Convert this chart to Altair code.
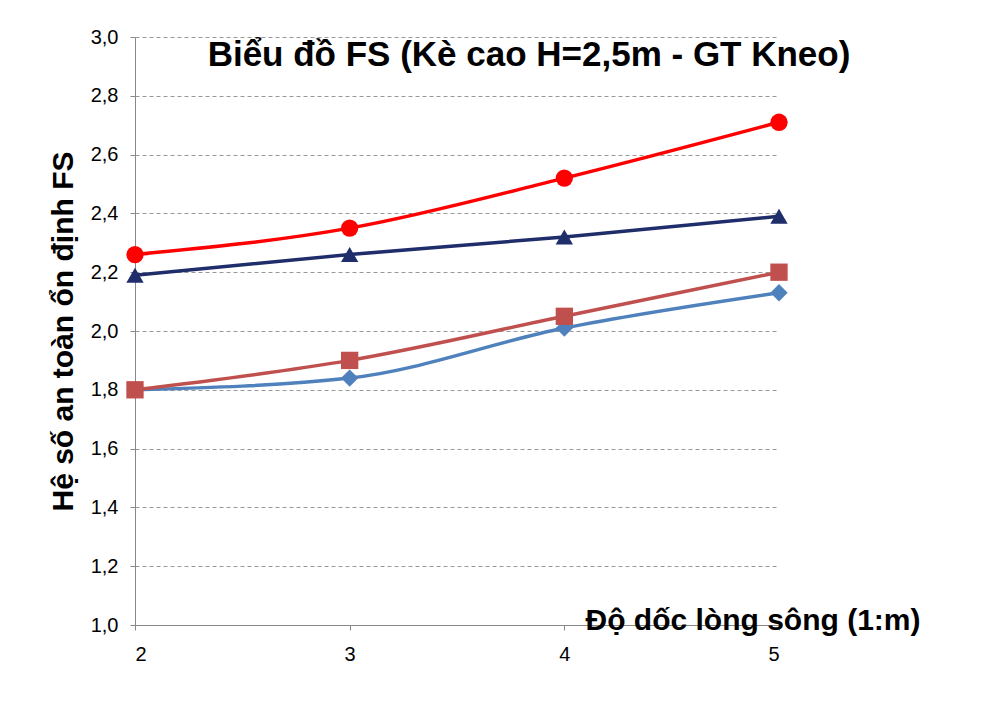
import altair as alt
import pandas as pd

slopes = [2, 3, 4, 5]
series_names = ["L=9m", "L=12m", "L=15m", "L=20m"]
fs_l9 = [1.80, 1.84, 2.01, 2.13]
fs_l12 = [1.80, 1.90, 2.05, 2.20]
fs_l15 = [2.19, 2.26, 2.32, 2.39]
fs_l20 = [2.26, 2.35, 2.52, 2.71]

rows = []
for name, vals in zip(series_names, [fs_l9, fs_l12, fs_l15, fs_l20]):
    for s, v in zip(slopes, vals):
        rows.append({"m": s, "FS": v, "Series": name})
df = pd.DataFrame(rows)

colors = ["#4F81BD", "#C0504D", "#1F2D6B", "#FF0000"]
shapes = ["diamond", "square", "triangle-up", "circle"]
# legend symbols: line segment + marker
bar = "M-2,-0.13H2V0.13H-2Z"
legend_paths = [
    bar + "M0,-0.6L0.6,0L0,0.6L-0.6,0Z",
    bar + "M-0.55,-0.55H0.55V0.55H-0.55Z",
    bar + "M0,-0.65L0.65,0.5L-0.65,0.5Z",
    bar + "M-0.6,0A0.6,0.6,0,1,0,0.6,0A0.6,0.6,0,1,0,-0.6,0Z",
]
font = "Liberation Sans"

x = alt.X("m:Q", scale=alt.Scale(domain=[2, 5], nice=False),
          axis=alt.Axis(values=slopes, grid=False, title="Độ dốc lòng sông (1:m)",
                        titleAnchor="end", titleAlign="right", titleX=785, titleY=-20,
                        titleFontSize=30, labelFontSize=20, labelPadding=14,
                        domainColor="#888", tickColor="#888"))
y = alt.Y("FS:Q", scale=alt.Scale(domain=[1.0, 3.0], nice=False),
          axis=alt.Axis(values=[1.0 + 0.2 * i for i in range(11)], format=".1f",
                        labelExpr="replace(datum.label, '.', ',')",
                        title="Hệ số an toàn ổn định FS", titleFontSize=30,
                        labelFontSize=20, gridDash=[4, 3], gridColor="#999", labelPadding=12,
                        domainColor="#888", tickColor="#888", titlePadding=12))
cscale = alt.Scale(domain=series_names, range=colors)

base = alt.Chart(df)
lines = base.mark_line(strokeWidth=3.5, interpolate="monotone").encode(
    x=x, y=y, color=alt.Color("Series:N", scale=cscale, legend=None), detail="Series:N")
points = base.mark_point(filled=True, size=300, opacity=1).encode(
    x=x, y=y, color=alt.Color("Series:N", scale=cscale, legend=None),
    shape=alt.Shape("Series:N", scale=alt.Scale(domain=series_names, range=shapes), legend=None))
leg = base.mark_point(filled=True, size=256, opacity=0).encode(
    x=x, y=y,
    color=alt.Color("Series:N", scale=cscale, sort=series_names,
                    legend=alt.Legend(title=None, orient="none", legendX=680, legendY=150,
                                      labelFontSize=27, symbolSize=256, rowPadding=66,
                                      symbolOpacity=1, labelOffset=18, labelFont=font)),
    shape=alt.Shape("Series:N", sort=series_names,
                    scale=alt.Scale(domain=series_names, range=legend_paths),
                    legend=alt.Legend(title=None, orient="none", legendX=680, legendY=150,
                                      labelFontSize=27, symbolSize=256, rowPadding=66,
                                      symbolOpacity=1, labelOffset=18, labelFont=font)))

chart = (lines + points + leg).properties(
    width=644, height=588,
    autosize=alt.AutoSizeParams(type="none"),
    padding={"left": 127, "top": 29, "right": 190, "bottom": 70},
    title=alt.TitleParams("Biểu đồ FS (Kè cao H=2,5m - GT Kneo)", fontSize=35, font=font,
                          fontWeight="bold", anchor="middle", dx=72, dy=50),
    background="white",
).configure_axis(titleFont=font, labelFont=font, titleFontWeight="bold", labelColor="black"
).configure_view(stroke=None)

chart.save("out.html", embed_options={"renderer": "svg", "actions": False})
